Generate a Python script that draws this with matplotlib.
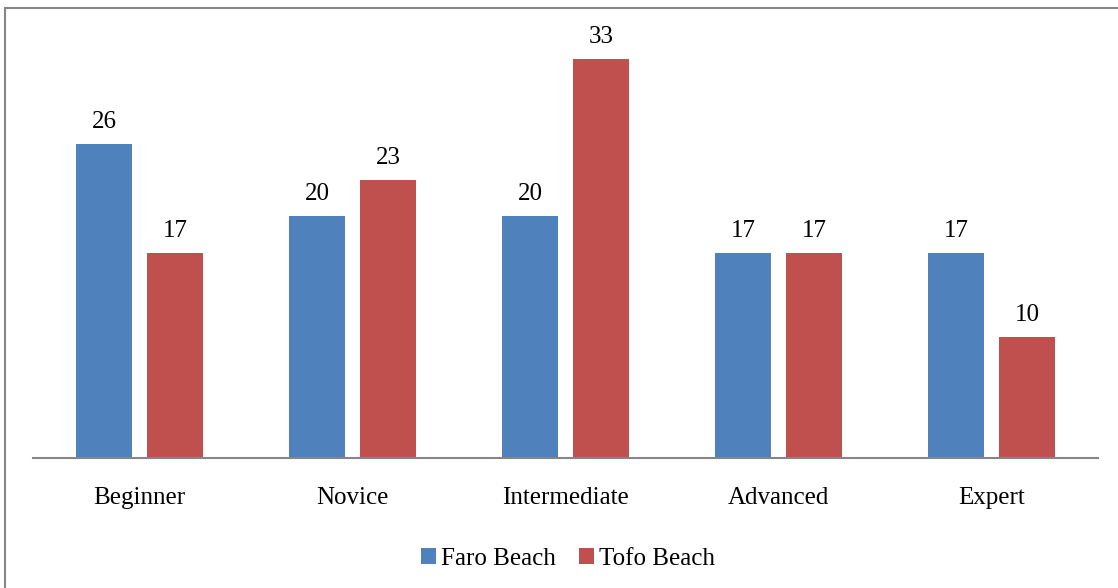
import numpy as np
import matplotlib.pyplot as plt
from matplotlib.patches import Rectangle

categories = ["Beginner", "Novice", "Intermediate", "Advanced", "Expert"]
faro = [26, 20, 20, 17, 17]
tofo = [17, 23, 33, 17, 10]

plt.rcParams['font.family'] = ['Liberation Serif', 'DejaVu Serif']

fig = plt.figure(figsize=(11.18, 5.88), dpi=100)
ax = fig.add_axes([33 / 1118, 130 / 588, 1065 / 1118, 423 / 588])

x = np.arange(len(categories))
w = 0.263
off = 0.167
b1 = ax.bar(x - off, faro, w, color='#4f81bd', label='Faro Beach')
b2 = ax.bar(x + off, tofo, w, color='#c0504d', label='Tofo Beach')

for bars, vals in ((b1, faro), (b2, tofo)):
    for r, v in zip(bars, vals):
        ax.text(r.get_x() + r.get_width() / 2, v + 0.9, str(v),
                ha='center', va='bottom', fontsize=18)

ax.set_xlim(-0.5, len(categories) - 0.5)
ax.set_ylim(0, 35)
ax.set_xticks(x)
ax.set_xticklabels(categories, fontsize=18)
ax.tick_params(axis='x', length=0, pad=21)
ax.set_yticks([])
for s in ('top', 'right', 'left'):
    ax.spines[s].set_visible(False)
ax.spines['bottom'].set_color('#868686')
ax.spines['bottom'].set_linewidth(1.5)

fig.legend(handles=[b1, b2], loc='center', bbox_to_anchor=(568 / 1118, 1 - 559 / 588),
           ncol=2, frameon=False, fontsize=18, handlelength=0.6, handleheight=0.6,
           handletextpad=0.2, columnspacing=0.9)

fig.patches.append(Rectangle((5 / 1118, -0.01), 1.02, 1 + 0.01 - 8 / 588,
                             transform=fig.transFigure, fill=False,
                             edgecolor='#868686', linewidth=1.5))

fig.savefig('out.png', dpi=100)
